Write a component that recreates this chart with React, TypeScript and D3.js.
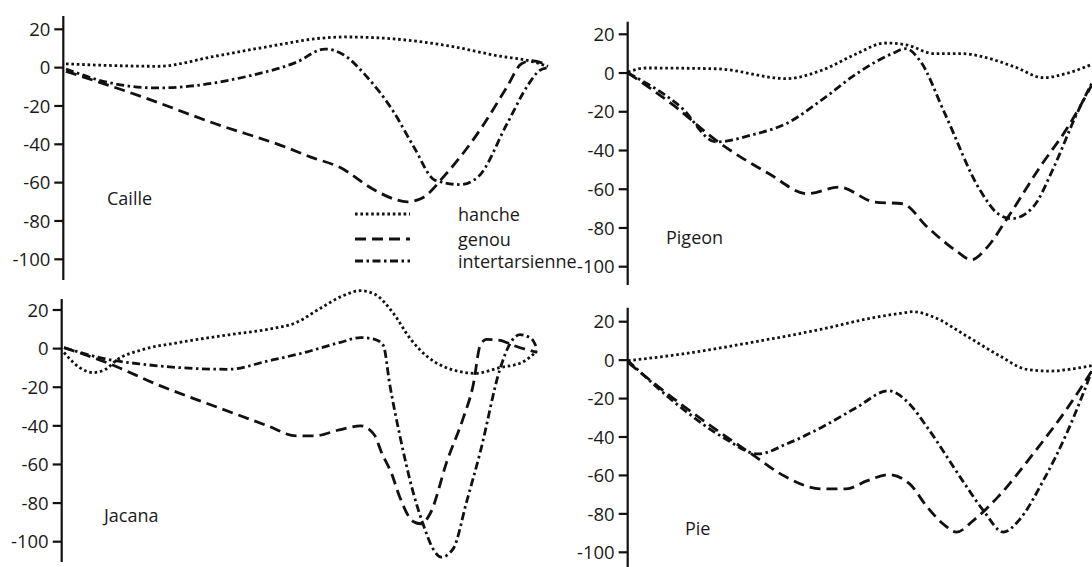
import React from "react";
import * as d3 from "d3";

type Pt = [number, number];

const tickValues = [20, 0, -20, -40, -60, -80, -100];
const seriesNames = ["hanche", "genou", "intertarsienne"];

// x: % of cycle, y: angle (deg)
const cailleHanche: Pt[] = [[0, 2], [8, 1.2], [19, 0.7], [31, 6], [42, 11], [53, 15.4], [58, 16], [68, 15], [79, 11.5], [90, 6], [96, 3.6], [100, 0.7]];
const cailleGenou: Pt[] = [[0, -1.9], [16, -15.4], [31, -29.3], [45.6, -41.5], [50.8, -46.7], [56.7, -51.9], [64.1, -64], [68, -68.5], [70.8, -70], [73.7, -68.3], [78.9, -55.3], [86.3, -31], [91.5, -10], [94.5, 2], [96.7, 3.6], [100, 1]];
const cailleInter: Pt[] = [[0, -0.7], [8.5, -7.6], [18.9, -10.6], [25.6, -9.7], [38.2, -4.2], [47.8, 2.8], [53.7, 9.7], [57.4, 7], [62.5, -5], [67.8, -22.4], [72.2, -41.5], [76.6, -58.8], [81.8, -61], [85.5, -57], [91.5, -29.3], [96, -8.5], [98.2, -1.6], [100, 0]];

const pigeonHanche: Pt[] = [[0, 0.5], [3.8, 2.6], [19, 2.2], [34.2, -2.9], [41.7, 1.4], [49.3, 10], [55.4, 15.5], [59.9, 14.6], [66, 10], [72.1, 10], [76.6, 8.3], [83.4, 3.1], [89.5, -2.4], [94.8, 0], [100, 4.5]];
const pigeonGenou: Pt[] = [[0, 0], [10, -17], [19, -34.8], [30.4, -52], [38.7, -62.3], [45.5, -58.9], [53.1, -66.6], [59.2, -67.5], [64.5, -79.5], [70.6, -91.6], [74, -96.4], [77.4, -90], [81.9, -74.4], [88.8, -48.5], [94.8, -27.9], [100, -6]];
const pigeonInter: Pt[] = [[0, 0], [11.4, -17.6], [19, -35.6], [26.6, -32], [34.2, -26], [41.7, -14], [49.3, -0.3], [56.9, 10], [59.9, 12.6], [62.9, 6.5], [68.3, -21], [75.9, -60.6], [79.7, -72.6], [82.7, -75.2], [87.3, -69.2], [91.8, -48.5], [96.4, -22.7], [100, -5]];

const jacanaHanche: Pt[] = [[0, -2], [3.4, -10], [6.2, -12.4], [9, -10.4], [11.1, -6], [16.7, -0.5], [24.2, 3.1], [35.5, 7.4], [43.1, 10], [49.1, 13.5], [54.4, 21.2], [58.9, 27.3], [62.7, 30], [65.7, 28.2], [69.5, 18.7], [73.3, 4.8], [77.1, -4.7], [83.1, -11.6], [86.9, -12.8], [92.2, -9.8], [96.7, -7.3], [100, -1.2]];
const jacanaGenou: Pt[] = [[0, 0.5], [9.1, -7.3], [20.4, -19.3], [31.7, -29.7], [43.1, -40], [49.1, -45.2], [52.9, -45.2], [58.2, -42.1], [62.7, -40], [65.7, -45], [67, -53], [69.3, -65], [71, -77], [73.8, -89.5], [75.5, -90.7], [77.5, -85], [80.9, -58.8], [84.4, -36], [86.5, -19], [88, 1.7], [89.3, 4.8], [92.2, 4.3], [95, 1.7], [100, -2]];
const jacanaInter: Pt[] = [[0, 0.5], [9.1, -5.5], [16.7, -8.1], [24.2, -9.8], [34.8, -10.7], [43.1, -6.4], [50.7, -2.1], [58.2, 3.1], [62.7, 5.7], [65.7, 4.8], [67.5, 1.7], [68.9, -19], [71, -45], [73.8, -74.3], [76, -91.5], [78, -103.6], [79.8, -108], [82.3, -103.6], [85.1, -79.5], [88, -53.6], [92.2, -10.4], [94.3, 2.6], [96.4, 7.2], [98.8, 5.2], [100, 0]];

const pieHanche: Pt[] = [[0, -0.3], [11.4, 3.1], [26.6, 9.2], [41.7, 16.1], [53.1, 22.2], [58.6, 24.3], [61.5, 25.2], [65.7, 22.6], [73, 12.5], [80.2, 2.1], [85.9, -4.8], [90.9, -5.7], [95.9, -4.5], [100, -2.8]];
const pieGenou: Pt[] = [[0, -1.2], [11.4, -22.9], [26.6, -48.8], [34.2, -61], [41.7, -67], [47, -67], [51.6, -62.7], [56.1, -59.6], [60.7, -64.4], [64.5, -76.5], [68.3, -86], [70.8, -89.5], [74.4, -83.5], [79.7, -71.3], [87.3, -48.8], [94.8, -24.6], [100, -5.5]];
const pieInter: Pt[] = [[0, -0.3], [11.4, -24.6], [20.5, -40.2], [28.1, -48.8], [34.2, -43.6], [41.7, -35], [49.3, -24.6], [56.1, -15.9], [60.7, -22.9], [64.5, -35], [72.1, -62.7], [76.6, -78.3], [80.9, -89.5], [84.2, -83.5], [89.5, -62.7], [94.8, -36.7], [100, -5.5]];

const dashArrays = ["2.6,2.8", "11,6", "8,3.5,2.5,3.5"];

const panels = [
  { name: "Caille", series: [cailleHanche, cailleGenou, cailleInter], axisX: 63.3, y20: 29.3, y100: 259.3, top: 16, bottom: 280, x0: 66, x1: 548, lx: 107, ly: 205 },
  { name: "Pigeon", series: [pigeonHanche, pigeonGenou, pigeonInter], axisX: 627.7, y20: 34.3, y100: 266.7, top: 21.7, bottom: 285, x0: 628, x1: 1092, lx: 666, ly: 244 },
  { name: "Jacana", series: [jacanaHanche, jacanaGenou, jacanaInter], axisX: 61.7, y20: 310, y100: 541.7, top: 299, bottom: 562, x0: 64, x1: 537, lx: 104, ly: 522 },
  { name: "Pie", series: [pieHanche, pieGenou, pieInter], axisX: 627.7, y20: 321.7, y100: 552.3, top: 307.7, bottom: 570, x0: 628, x1: 1092, lx: 685, ly: 535 },
];

const legend = { x0: 355, x1: 410, tx: 458, ys: [214, 239, 261] };
const FONT = "'Open Sans', 'Noto Sans', sans-serif";
const INK = "#111";

export default function App() {
  return (
    <svg width={1092} height={567} style={{ position: "absolute", left: 0, top: 0, background: "#fff" }} fontFamily={FONT}>
      <rect width={1092} height={567} fill="#fff" />
      {panels.map((p) => {
        const xs = d3.scaleLinear().domain([0, 100]).range([p.x0, p.x1]);
        const ys = d3.scaleLinear().domain([20, -100]).range([p.y20, p.y100]);
        const line = d3
          .line<Pt>()
          .x((d) => xs(d[0]))
          .y((d) => ys(d[1]))
          .curve(d3.curveMonotoneX);
        return (
          <g key={p.name}>
            <line x1={p.axisX} x2={p.axisX} y1={p.top} y2={p.bottom} stroke={INK} strokeWidth={2.2} />
            {tickValues.map((t) => (
              <g key={t}>
                <line x1={p.axisX - 9} x2={p.axisX} y1={ys(t)} y2={ys(t)} stroke={INK} strokeWidth={2.2} />
                <text x={p.axisX - 13} y={ys(t)} dy="0.36em" textAnchor="end" fontSize={18.5} fill="#1a1a1a">
                  {String(t)}
                </text>
              </g>
            ))}
            {p.series.map((s, i) => (
              <path key={i} d={line(s) || ""} fill="none" stroke={INK} strokeWidth={2.8} strokeDasharray={dashArrays[i]} />
            ))}
            <text x={p.lx} y={p.ly} fontSize={18} fill="#1a1a1a">
              {p.name}
            </text>
          </g>
        );
      })}
      {seriesNames.map((n, i) => (
        <g key={n}>
          <line x1={legend.x0} x2={legend.x1} y1={legend.ys[i]} y2={legend.ys[i]} stroke={INK} strokeWidth={2.8} strokeDasharray={dashArrays[i]} />
          <text x={legend.tx} y={legend.ys[i] + 7} fontSize={18} fill="#1a1a1a">
            {n}
          </text>
        </g>
      ))}
    </svg>
  );
}
